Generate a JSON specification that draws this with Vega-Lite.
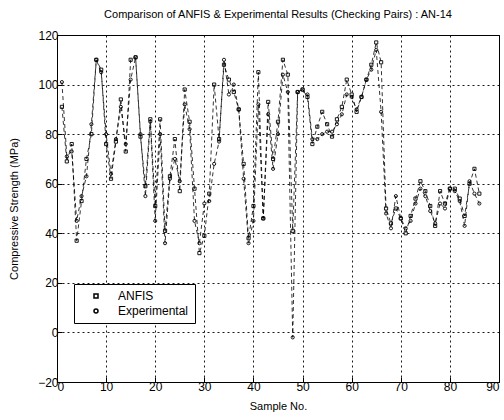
{
  "$schema": "https://vega.github.io/schema/vega-lite/v6.json",
  "autosize": "none",
  "width": 442,
  "height": 347,
  "padding": {"left": 57, "top": 35, "right": 5, "bottom": 38},
  "background": "white",
  "config": {
    "font": "Liberation Sans",
    "view": {"stroke": "black", "strokeWidth": 1},
    "axis": {
      "domainColor": "black", "tickColor": "black", "labelColor": "black", "titleColor": "black",
      "gridColor": "black", "gridDash": [2, 3], "gridOpacity": 0.9, "gridWidth": 1,
      "labelFontSize": 12, "titleFontSize": 11, "titleFontWeight": "normal",
      "tickSize": -5, "labelPadding": 4
    }
  },
  "title": {"text": "Comparison of ANFIS & Experimental Results (Checking Pairs) : AN-14", "fontSize": 11, "fontWeight": "normal", "color": "black", "offset": 9},
  "data": {"values": [
    {"x":1,"s":"ANFIS","y":91},{"x":1,"s":"Experimental","y":101},
    {"x":2,"s":"ANFIS","y":69},{"x":2,"s":"Experimental","y":71},
    {"x":3,"s":"ANFIS","y":76},{"x":3,"s":"Experimental","y":73},
    {"x":4,"s":"ANFIS","y":37},{"x":4,"s":"Experimental","y":45},
    {"x":5,"s":"ANFIS","y":53},{"x":5,"s":"Experimental","y":55},
    {"x":6,"s":"ANFIS","y":70},{"x":6,"s":"Experimental","y":63},
    {"x":7,"s":"ANFIS","y":80},{"x":7,"s":"Experimental","y":84},
    {"x":8,"s":"ANFIS","y":110},{"x":8,"s":"Experimental","y":110},
    {"x":9,"s":"ANFIS","y":106},{"x":9,"s":"Experimental","y":105},
    {"x":10,"s":"ANFIS","y":76},{"x":10,"s":"Experimental","y":80},
    {"x":11,"s":"ANFIS","y":62},{"x":11,"s":"Experimental","y":64},
    {"x":12,"s":"ANFIS","y":77},{"x":12,"s":"Experimental","y":78},
    {"x":13,"s":"ANFIS","y":94},{"x":13,"s":"Experimental","y":91},
    {"x":14,"s":"ANFIS","y":73},{"x":14,"s":"Experimental","y":76},
    {"x":15,"s":"ANFIS","y":110},{"x":15,"s":"Experimental","y":102},
    {"x":16,"s":"ANFIS","y":111},{"x":16,"s":"Experimental","y":111},
    {"x":17,"s":"ANFIS","y":79},{"x":17,"s":"Experimental","y":80},
    {"x":18,"s":"ANFIS","y":59},{"x":18,"s":"Experimental","y":55},
    {"x":19,"s":"ANFIS","y":86},{"x":19,"s":"Experimental","y":85},
    {"x":20,"s":"ANFIS","y":51},{"x":20,"s":"Experimental","y":45},
    {"x":21,"s":"ANFIS","y":86},{"x":21,"s":"Experimental","y":80},
    {"x":22,"s":"ANFIS","y":41},{"x":22,"s":"Experimental","y":36},
    {"x":23,"s":"ANFIS","y":63},{"x":23,"s":"Experimental","y":62},
    {"x":24,"s":"ANFIS","y":78},{"x":24,"s":"Experimental","y":70},
    {"x":25,"s":"ANFIS","y":57},{"x":25,"s":"Experimental","y":61},
    {"x":26,"s":"ANFIS","y":98},{"x":26,"s":"Experimental","y":92},
    {"x":27,"s":"ANFIS","y":85},{"x":27,"s":"Experimental","y":82},
    {"x":28,"s":"ANFIS","y":58},{"x":28,"s":"Experimental","y":45},
    {"x":29,"s":"ANFIS","y":32},{"x":29,"s":"Experimental","y":36},
    {"x":30,"s":"ANFIS","y":39},{"x":30,"s":"Experimental","y":52},
    {"x":31,"s":"ANFIS","y":56},{"x":31,"s":"Experimental","y":53},
    {"x":32,"s":"ANFIS","y":100},{"x":32,"s":"Experimental","y":68},
    {"x":33,"s":"ANFIS","y":78},{"x":33,"s":"Experimental","y":77},
    {"x":34,"s":"ANFIS","y":108},{"x":34,"s":"Experimental","y":110},
    {"x":35,"s":"ANFIS","y":102},{"x":35,"s":"Experimental","y":96},
    {"x":36,"s":"ANFIS","y":97},{"x":36,"s":"Experimental","y":100},
    {"x":37,"s":"ANFIS","y":90},{"x":37,"s":"Experimental","y":90},
    {"x":38,"s":"ANFIS","y":68},{"x":38,"s":"Experimental","y":62},
    {"x":39,"s":"ANFIS","y":38},{"x":39,"s":"Experimental","y":36},
    {"x":40,"s":"ANFIS","y":51},{"x":40,"s":"Experimental","y":45},
    {"x":41,"s":"ANFIS","y":105},{"x":41,"s":"Experimental","y":92},
    {"x":42,"s":"ANFIS","y":46},{"x":42,"s":"Experimental","y":46},
    {"x":43,"s":"ANFIS","y":93},{"x":43,"s":"Experimental","y":88},
    {"x":44,"s":"ANFIS","y":70},{"x":44,"s":"Experimental","y":66},
    {"x":45,"s":"ANFIS","y":85},{"x":45,"s":"Experimental","y":80},
    {"x":46,"s":"ANFIS","y":110},{"x":46,"s":"Experimental","y":104},
    {"x":47,"s":"ANFIS","y":104},{"x":47,"s":"Experimental","y":97},
    {"x":48,"s":"ANFIS","y":41},{"x":48,"s":"Experimental","y":-2},
    {"x":49,"s":"ANFIS","y":97},{"x":49,"s":"Experimental","y":97},
    {"x":50,"s":"ANFIS","y":98},{"x":50,"s":"Experimental","y":98},
    {"x":51,"s":"ANFIS","y":95},{"x":51,"s":"Experimental","y":96},
    {"x":52,"s":"ANFIS","y":76},{"x":52,"s":"Experimental","y":78},
    {"x":53,"s":"ANFIS","y":83},{"x":53,"s":"Experimental","y":78},
    {"x":54,"s":"ANFIS","y":89},{"x":54,"s":"Experimental","y":80},
    {"x":55,"s":"ANFIS","y":84},{"x":55,"s":"Experimental","y":81},
    {"x":56,"s":"ANFIS","y":79},{"x":56,"s":"Experimental","y":81},
    {"x":57,"s":"ANFIS","y":86},{"x":57,"s":"Experimental","y":84},
    {"x":58,"s":"ANFIS","y":91},{"x":58,"s":"Experimental","y":88},
    {"x":59,"s":"ANFIS","y":102},{"x":59,"s":"Experimental","y":96},
    {"x":60,"s":"ANFIS","y":96},{"x":60,"s":"Experimental","y":95},
    {"x":61,"s":"ANFIS","y":89},{"x":61,"s":"Experimental","y":90},
    {"x":62,"s":"ANFIS","y":95},{"x":62,"s":"Experimental","y":95},
    {"x":63,"s":"ANFIS","y":102},{"x":63,"s":"Experimental","y":102},
    {"x":64,"s":"ANFIS","y":108},{"x":64,"s":"Experimental","y":106},
    {"x":65,"s":"ANFIS","y":117},{"x":65,"s":"Experimental","y":114},
    {"x":66,"s":"ANFIS","y":109},{"x":66,"s":"Experimental","y":89},
    {"x":67,"s":"ANFIS","y":50},{"x":67,"s":"Experimental","y":48},
    {"x":68,"s":"ANFIS","y":44},{"x":68,"s":"Experimental","y":42},
    {"x":69,"s":"ANFIS","y":50},{"x":69,"s":"Experimental","y":55},
    {"x":70,"s":"ANFIS","y":46},{"x":70,"s":"Experimental","y":46},
    {"x":71,"s":"ANFIS","y":40},{"x":71,"s":"Experimental","y":42},
    {"x":72,"s":"ANFIS","y":47},{"x":72,"s":"Experimental","y":45},
    {"x":73,"s":"ANFIS","y":54},{"x":73,"s":"Experimental","y":52},
    {"x":74,"s":"ANFIS","y":61},{"x":74,"s":"Experimental","y":58},
    {"x":75,"s":"ANFIS","y":57},{"x":75,"s":"Experimental","y":55},
    {"x":76,"s":"ANFIS","y":51},{"x":76,"s":"Experimental","y":49},
    {"x":77,"s":"ANFIS","y":43},{"x":77,"s":"Experimental","y":44},
    {"x":78,"s":"ANFIS","y":57},{"x":78,"s":"Experimental","y":52},
    {"x":79,"s":"ANFIS","y":52},{"x":79,"s":"Experimental","y":50},
    {"x":80,"s":"ANFIS","y":58},{"x":80,"s":"Experimental","y":58},
    {"x":81,"s":"ANFIS","y":58},{"x":81,"s":"Experimental","y":57},
    {"x":82,"s":"ANFIS","y":54},{"x":82,"s":"Experimental","y":53},
    {"x":83,"s":"ANFIS","y":47},{"x":83,"s":"Experimental","y":43},
    {"x":84,"s":"ANFIS","y":60},{"x":84,"s":"Experimental","y":61},
    {"x":85,"s":"ANFIS","y":66},{"x":85,"s":"Experimental","y":56},
    {"x":86,"s":"ANFIS","y":56},{"x":86,"s":"Experimental","y":52}
  ]},
  "encoding": {
    "x": {"field": "x", "type": "quantitative", "scale": {"domain": [0, 90], "nice": false},
      "axis": {"title": "Sample No.", "values": [0,10,20,30,40,50,60,70,80,90], "titlePadding": 8}},
    "y": {"field": "y", "type": "quantitative", "scale": {"domain": [-20, 120], "nice": false},
      "axis": {"title": "Compressive Strength (MPa)", "values": [-20,0,20,40,60,80,100,120], "titlePadding": 18}}
  },
  "layer": [
    {
      "mark": {"type": "line", "color": "black", "strokeWidth": 0.8, "strokeDash": [4, 3]},
      "encoding": {"detail": {"field": "s"}}
    },
    {
      "mark": {"type": "point", "filled": false, "color": "black", "strokeWidth": 0.9, "opacity": 1, "size": 10},
      "encoding": {
        "shape": {"field": "s", "type": "nominal", "scale": {"domain": ["ANFIS", "Experimental"], "range": ["square", "circle"]},
          "legend": {"title": null, "orient": "none", "legendX": 17, "legendY": 249, "fillColor": "white", "strokeColor": "black",
            "padding": 6, "labelFontSize": 12, "labelColor": "black", "symbolStrokeColor": "black", "symbolSize": 16, "rowPadding": 3, "symbolOffset": 10, "labelOffset": 16}}
      }
    }
  ]
}
